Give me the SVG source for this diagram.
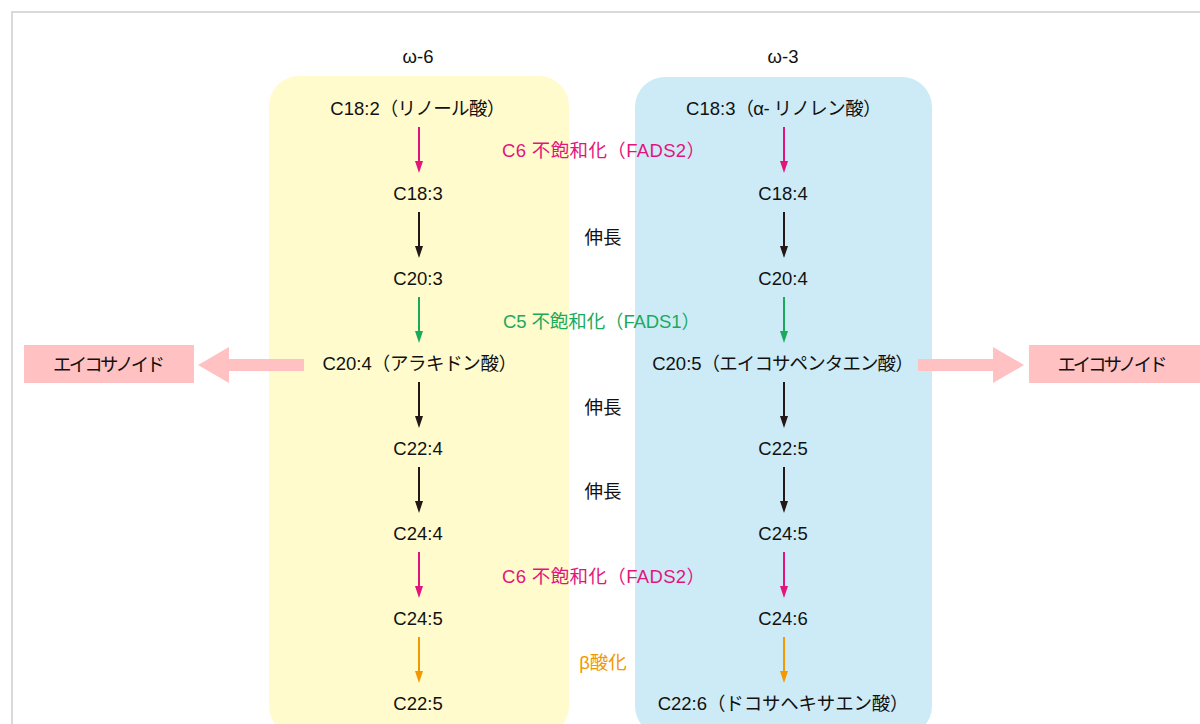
<svg xmlns="http://www.w3.org/2000/svg" width="1200" height="724" viewBox="0 0 1200 724">
<defs>
<style>
text{font-family:"Liberation Sans","Noto Sans CJK JP",sans-serif;font-size:18.5px;fill:#111;text-anchor:middle;dominant-baseline:central}
.mg{fill:#e4147d}.gr{fill:#1aaa5c}.or{fill:#f39800}
.a{stroke-width:2;fill:none}
.ak{stroke:#231815}.am{stroke:#e4147d}.ag{stroke:#1aaa5c}.ao{stroke:#f39800}
</style>
</defs>
<rect x="12" y="12" width="1200" height="720" fill="#fff" stroke="#d9d9d9" stroke-width="2"/>
<g id="col-omega6">
<rect x="269" y="76" width="300" height="660" rx="30" fill="#fffbcc"/>
<text x="418" y="56">ω-6</text>
</g>
<g id="col-omega3">
<rect x="635" y="77" width="297" height="659" rx="30" fill="#cdebf7"/>
<text x="783" y="56">ω-3</text>
</g>
<g id="n6-1"><text x="417.5" y="108">C18:2<tspan style="letter-spacing:-0.65px">（リノール酸）</tspan></text></g>
<g id="n6-2"><text x="418" y="193">C18:3</text></g>
<g id="n6-3"><text x="418" y="278">C20:3</text></g>
<g id="n6-4"><text x="419.5" y="363">C20:4<tspan style="letter-spacing:-0.4px">（アラキドン酸）</tspan></text></g>
<g id="n6-5"><text x="418" y="448">C22:4</text></g>
<g id="n6-6"><text x="418" y="533">C24:4</text></g>
<g id="n6-7"><text x="418" y="618">C24:5</text></g>
<g id="n6-8"><text x="418" y="703">C22:5</text></g>
<g id="n3-1"><text x="783.5" y="108">C18:3<tspan style="letter-spacing:-0.6px">（α- リノレン酸）</tspan></text></g>
<g id="n3-2"><text x="783" y="193">C18:4</text></g>
<g id="n3-3"><text x="783" y="278">C20:4</text></g>
<g id="n3-4"><text x="782.5" y="363">C20:5<tspan style="letter-spacing:-0.9px">（エイコサペンタエン酸）</tspan></text></g>
<g id="n3-5"><text x="783" y="448">C22:5</text></g>
<g id="n3-6"><text x="783" y="533">C24:5</text></g>
<g id="n3-7"><text x="783" y="618">C24:6</text></g>
<g id="n3-8"><text x="783" y="703">C22:6<tspan style="letter-spacing:-0.2px">（ドコサヘキサエン酸）</tspan></text></g>
<g id="lbl">
<text class="mg" x="603.5" y="150" textLength="203" lengthAdjust="spacing">C6 不飽和化（FADS2）</text>
<text x="603" y="237">伸長</text>
<text class="gr" x="601.5" y="321" textLength="197" lengthAdjust="spacing">C5 不飽和化（FADS1）</text>
<text x="603" y="407">伸長</text>
<text x="603" y="491">伸長</text>
<text class="mg" x="603.5" y="576" textLength="203" lengthAdjust="spacing">C6 不飽和化（FADS2）</text>
<text class="or" x="603" y="662">β酸化</text>
</g>
<g id="eico-l"><rect x="24" y="345" width="170" height="38" fill="#ffc1c1"/><text x="109" y="364" textLength="112" lengthAdjust="spacing">エイコサノイド</text></g>
<g id="eico-r"><rect x="1029" y="345" width="171" height="38" fill="#ffc1c1"/><text x="1112.5" y="364" textLength="110" lengthAdjust="spacing">エイコサノイド</text></g>
<g id="connectors">
<path d="M304,359 L229,359 L229,347 L198,365 L229,383 L229,371 L304,371 Z" fill="#ffc1c1"/>
<path d="M918,359 L993,359 L993,347 L1024,365 L993,383 L993,371 L918,371 Z" fill="#ffc1c1"/>
<g id="arrows">
<line class="a am" x1="419" y1="127" x2="419" y2="162"/><path d="M415,161 L423,161 L419,173 Z" fill="#e4147d"/>
<line class="a ak" x1="419" y1="212" x2="419" y2="247"/><path d="M415,246 L423,246 L419,258 Z" fill="#231815"/>
<line class="a ag" x1="419" y1="297" x2="419" y2="332"/><path d="M415,331 L423,331 L419,343 Z" fill="#1aaa5c"/>
<line class="a ak" x1="419" y1="382" x2="419" y2="417"/><path d="M415,416 L423,416 L419,428 Z" fill="#231815"/>
<line class="a ak" x1="419" y1="467" x2="419" y2="502"/><path d="M415,501 L423,501 L419,513 Z" fill="#231815"/>
<line class="a am" x1="419" y1="552" x2="419" y2="587"/><path d="M415,586 L423,586 L419,598 Z" fill="#e4147d"/>
<line class="a ao" x1="419" y1="637" x2="419" y2="672"/><path d="M415,671 L423,671 L419,683 Z" fill="#f39800"/>
<line class="a am" x1="784" y1="127" x2="784" y2="162"/><path d="M780,161 L788,161 L784,173 Z" fill="#e4147d"/>
<line class="a ak" x1="784" y1="212" x2="784" y2="247"/><path d="M780,246 L788,246 L784,258 Z" fill="#231815"/>
<line class="a ag" x1="784" y1="297" x2="784" y2="332"/><path d="M780,331 L788,331 L784,343 Z" fill="#1aaa5c"/>
<line class="a ak" x1="784" y1="382" x2="784" y2="417"/><path d="M780,416 L788,416 L784,428 Z" fill="#231815"/>
<line class="a ak" x1="784" y1="467" x2="784" y2="502"/><path d="M780,501 L788,501 L784,513 Z" fill="#231815"/>
<line class="a am" x1="784" y1="552" x2="784" y2="587"/><path d="M780,586 L788,586 L784,598 Z" fill="#e4147d"/>
<line class="a ao" x1="784" y1="637" x2="784" y2="672"/><path d="M780,671 L788,671 L784,683 Z" fill="#f39800"/>
</g>
</g>
</svg>
